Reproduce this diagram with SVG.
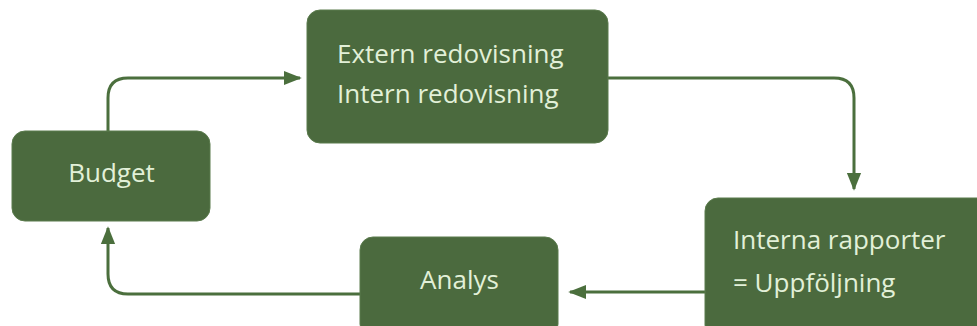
<svg xmlns="http://www.w3.org/2000/svg" width="977" height="326" viewBox="0 0 977 326">
<defs>
<style>
.box{fill:#4b6a3e;stroke:#5a7a4c;stroke-width:1}
.lbl{fill:#e2f0d8;font-family:"Open Sans","Noto Sans",sans-serif;font-size:26px}
.mid{text-anchor:middle}
.con{fill:none;stroke:#4b6f3d;stroke-width:3}
</style>
<marker id="ah" viewBox="0 0 10 10" refX="9" refY="5" markerWidth="6" markerHeight="6" orient="auto" markerUnits="strokeWidth">
<path d="M0,1 L10,5 L0,9 Z" fill="#4b6f3d"/>
</marker>
</defs>
<rect width="977" height="326" fill="#ffffff"/>
<g id="connectors">
<path class="con" d="M108,131 V98 Q108,78 128,78 H300" marker-end="url(#ah)"/>
<path class="con" d="M608,78 H834 Q854,78 854,98 V189" marker-end="url(#ah)"/>
<path class="con" d="M705,292 H570" marker-end="url(#ah)"/>
<path class="con" d="M360,294 H128 Q108,294 108,274 V228" marker-end="url(#ah)"/>
</g>
<g id="budget">
<rect class="box" x="12" y="131" width="198" height="90" rx="13"/>
<text class="lbl mid" x="111.5" y="182">Budget</text>
</g>
<g id="redovisning">
<rect class="box" x="307" y="10" width="301" height="133" rx="13"/>
<text class="lbl" x="337" y="63">Extern redovisning</text>
<text class="lbl" x="337" y="103">Intern redovisning</text>
</g>
<g id="interna">
<rect class="box" x="705" y="198" width="290" height="140" rx="13"/>
<text class="lbl" x="733" y="249">Interna rapporter</text>
<text class="lbl" x="733" y="292">= Uppföljning</text>
</g>
<g id="analys">
<rect class="box" x="360" y="237" width="198" height="100" rx="13"/>
<text class="lbl mid" x="459.5" y="289">Analys</text>
</g>
</svg>
